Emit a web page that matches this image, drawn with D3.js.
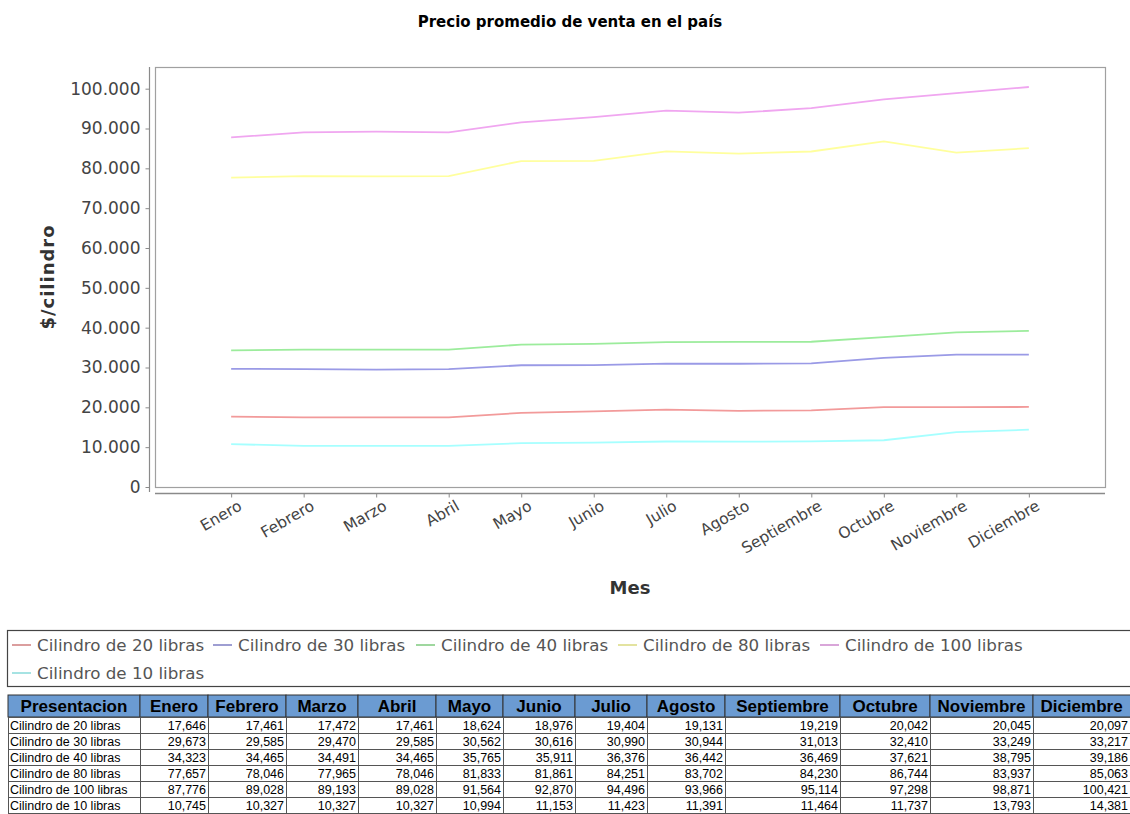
<!DOCTYPE html>
<html><head><meta charset="utf-8">
<script src="https://cdn.jsdelivr.net/npm/d3@7"></script>
<style>body{margin:0;background:#fff;} svg{display:block}</style>
</head><body><svg id="c" width="1130" height="814"></svg>
<script>
const months = ["Enero","Febrero","Marzo","Abril","Mayo","Junio","Julio","Agosto","Septiembre","Octubre","Noviembre","Diciembre"];
const seriesNames = ["Cilindro de 20 libras","Cilindro de 30 libras","Cilindro de 40 libras","Cilindro de 80 libras","Cilindro de 100 libras","Cilindro de 10 libras"];
const c20  = [17646,17461,17472,17461,18624,18976,19404,19131,19219,20042,20045,20097];
const c30  = [29673,29585,29470,29585,30562,30616,30990,30944,31013,32410,33249,33217];
const c40  = [34323,34465,34491,34465,35765,35911,36376,36442,36469,37621,38795,39186];
const c80  = [77657,78046,77965,78046,81833,81861,84251,83702,84230,86744,83937,85063];
const c100 = [87776,89028,89193,89028,91564,92870,94496,93966,95114,97298,98871,100421];
const c10  = [10745,10327,10327,10327,10994,11153,11423,11391,11464,11737,13793,14381];
const yTicks = [0,10000,20000,30000,40000,50000,60000,70000,80000,90000,100000];
const colors = ["#f29a9a","#9a9ae6","#9cec9c","#ffff9e","#f0a6f0","#a6ffff"];
const series = [c20,c30,c40,c80,c100,c10];

const svg = d3.select("#c");
const F = "DejaVu Sans, sans-serif";
const L = {left:155, right:1105, top:67, bottom:487};

const maxV = d3.max(series.flat());
const y = d3.scaleLinear().domain([0, maxV*1.05]).range([L.bottom, L.top]);
const x = d3.scalePoint().domain(months).range([L.left, L.right]).padding(1.05);

// title
svg.append("text").attr("x",570).attr("y",27).attr("text-anchor","middle")
  .attr("font-family",F).attr("font-weight","bold").attr("font-size",15).attr("fill","#000")
  .text("Precio promedio de venta en el país");

// plot box
svg.append("rect").attr("x",L.left+0.5).attr("y",L.top+0.5).attr("width",L.right-L.left).attr("height",L.bottom-L.top)
  .attr("fill","#fff").attr("stroke","#a0a0a0").attr("stroke-width",1.2);

// y axis
const loc = d3.formatLocale({decimal:",",thousands:".",grouping:[3],currency:["$",""]});
const fy = loc.format(",d");
const yAxis = d3.axisLeft(y).tickValues(yTicks).tickFormat(fy).tickSize(4).tickPadding(5);
const gy = svg.append("g").attr("transform","translate(149.5,0)").call(yAxis);
gy.select(".domain").attr("stroke","#8a8a8a").attr("stroke-width",1.2).attr("d",`M0,${L.top}V${L.bottom+5}`);
gy.selectAll(".tick line").attr("stroke","#8a8a8a");
gy.selectAll(".tick text").attr("font-family",F).attr("font-size",17).attr("fill","#444");

// x axis
const xAxis = d3.axisBottom(x).tickSize(4).tickFormat("");
const gx = svg.append("g").attr("transform","translate(0,493.5)").call(xAxis);
gx.select(".domain").attr("stroke","#8a8a8a").attr("stroke-width",1.6).attr("d",`M${L.left},0H${L.right}`);
gx.selectAll(".tick line").attr("stroke","#8a8a8a");
svg.append("g").selectAll("text").data(months).join("text")
  .attr("transform",d=>`translate(${x(d)+6},${499}) rotate(-30)`)
  .attr("text-anchor","end").attr("dy","0.75em")
  .attr("font-family",F).attr("font-size",15.5).attr("fill","#444").text(d=>d);

// axis labels
svg.append("text").attr("transform","translate(54,277) rotate(-90)").attr("text-anchor","middle")
  .attr("font-family",F).attr("font-weight","bold").attr("font-size",18).attr("letter-spacing",1).attr("fill","#333")
  .text("$/cilindro");
svg.append("text").attr("x",630).attr("y",594).attr("text-anchor","middle")
  .attr("font-family",F).attr("font-weight","bold").attr("font-size",18).attr("fill","#333").text("Mes");

// lines
const line = d3.line().x((d,i)=>x(months[i])).y(d=>y(d));
svg.append("g").selectAll("path").data(series).join("path")
  .attr("d",line).attr("fill","none").attr("stroke",(d,i)=>colors[i]).attr("stroke-width",1.8);

// legend
svg.append("rect").attr("x",7.5).attr("y",630.5).attr("width",1140).attr("height",56)
  .attr("fill","#fff").attr("stroke","#444").attr("stroke-width",1.2);
const legPos = [[12,645],[213,645],[416,645],[618,645],[820,645],[12,673]];
const lg = svg.append("g").selectAll("g").data(seriesNames).join("g")
  .attr("transform",(d,i)=>`translate(${legPos[i][0]},${legPos[i][1]})`);
lg.append("line").attr("x1",0).attr("x2",19).attr("y1",0).attr("y2",0)
  .attr("stroke",(d,i)=>d3.color(colors[i]).darker(0.4)).attr("stroke-width",1.6);
lg.append("text").attr("x",25).attr("y",0).attr("dy","0.35em")
  .attr("font-family",F).attr("font-size",16.7).attr("fill","#555").text(d=>d);

// table
const colEdges = [8,140,208,286,358,436,503,575,647,725,840,930,1033,1130];
const headers = ["Presentacion"].concat(months);
const T = {top:695, headH:22, rowH:16};
const TF = "Liberation Sans, Arial, sans-serif";
const tg = svg.append("g");
tg.selectAll("rect.h").data(headers).join("rect").attr("class","h")
  .attr("x",(d,i)=>colEdges[i]).attr("y",T.top).attr("width",(d,i)=>colEdges[i+1]-colEdges[i]+(i===headers.length-1?20:0)).attr("height",T.headH)
  .attr("fill","#6b9bd2").attr("stroke","#333").attr("stroke-width",1);
tg.selectAll("text.h").data(headers).join("text").attr("class","h")
  .attr("x",(d,i)=>(colEdges[i]+colEdges[i+1])/2).attr("y",T.top+T.headH/2).attr("dy","0.36em")
  .attr("text-anchor","middle").attr("font-family",TF).attr("font-weight","bold").attr("font-size",17).attr("fill","#000").text(d=>d);
const fmt = d3.format(",d");
series.forEach((vals,r)=>{
  const y0 = T.top+T.headH + r*T.rowH;
  const cells = [seriesNames[r]].concat(vals);
  cells.forEach((v,i)=>{
    const last = i===cells.length-1;
    tg.append("rect").attr("x",colEdges[i]+0.5).attr("y",y0+0.5).attr("width",colEdges[i+1]-colEdges[i]+(last?20:0)).attr("height",T.rowH)
      .attr("fill","#fff").attr("stroke","#555").attr("stroke-width",1);
    tg.append("text").attr("x", i===0 ? colEdges[i]+2 : colEdges[i+1]-2).attr("y",y0+T.rowH/2).attr("dy","0.36em")
      .attr("text-anchor", i===0?"start":"end").attr("font-family",TF).attr("font-size",12.5).attr("fill","#000")
      .text(i===0 ? v : fmt(v));
  });
});
</script></body></html>
